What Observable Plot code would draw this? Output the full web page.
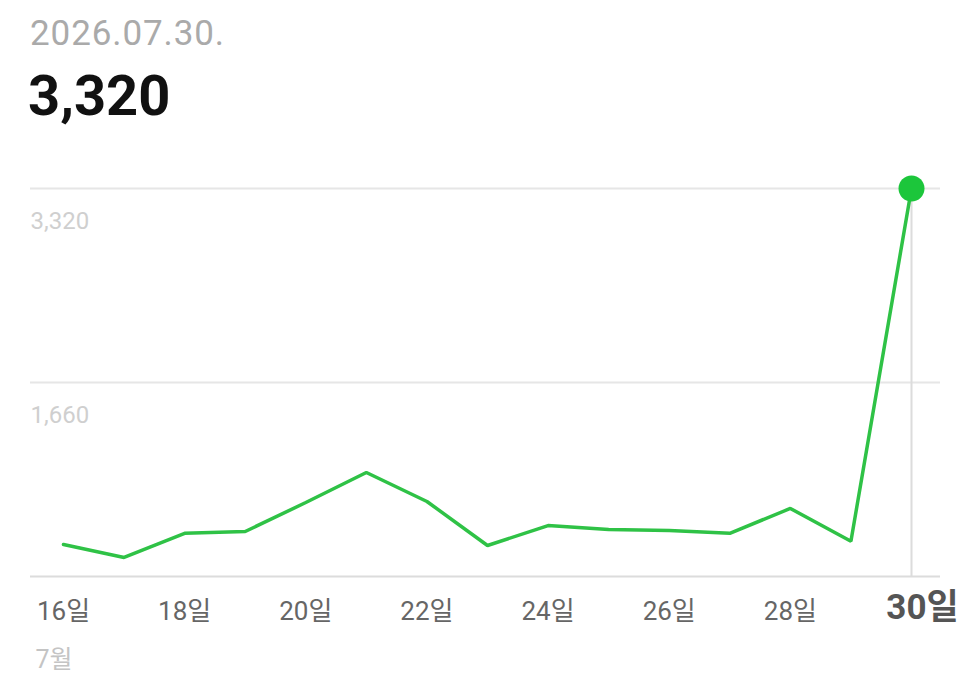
<!DOCTYPE html>
<html>
<head>
<meta charset="utf-8">
<script src="https://cdn.jsdelivr.net/npm/d3@7"></script>
<script src="https://cdn.jsdelivr.net/npm/@observablehq/plot@0.6"></script>
<style>
  html, body { margin: 0; padding: 0; background: #fff; }
  body { width: 975px; height: 682px; overflow: hidden; font-family: Roboto, "Noto Sans CJK KR", sans-serif; }
  #head { padding-left: 30px; height: 150px; box-sizing: border-box; position: relative; }
  #date { position: absolute; left: 30px; top: 12px; color: #aaaaaa; font-size: 35px; line-height: 44px; letter-spacing: 0.9px; white-space: nowrap; }
  #value { position: absolute; left: 28px; top: 64px; color: #111; font-size: 56px; font-weight: 700; line-height: 64px; white-space: nowrap; }
</style>
</head>
<body>
<div id="head">
  <div id="date">2026.07.30.</div>
  <div id="value">3,320</div>
</div>
<div id="chart"></div>
<script>
const days = [16, 17, 18, 19, 20, 21, 22, 23, 24, 25, 26, 27, 28, 29, 30];
const counts = [274, 163, 370, 385, 633, 890, 642, 265, 436, 402, 394, 370, 582, 302, 3320];
const gridValues = [1660, 3320];
const gridLabels = ["1,660", "3,320"];
const tickDays = [16, 18, 20, 22, 24, 26, 28, 30];
const tickLabels = ["16일", "18일", "20일", "22일", "24일", "26일", "28일", "30일"];
const monthLabel = "7월";
const selectedDay = 30;

const data = days.map((d, i) => ({day: d, count: counts[i]}));
const sel = data.find(d => d.day === selectedDay);
const ticks = tickDays.map((d, i) => ({day: d, label: tickLabels[i], selected: d === selectedDay}));
const grid = gridValues.map((v, i) => ({v, label: gridLabels[i]}));

const chart = Plot.plot({
  width: 975,
  height: 532,
  marginTop: 38,
  marginBottom: 106,
  marginLeft: 63,
  marginRight: 64,
  x: {domain: [16, 30], axis: null},
  y: {domain: [0, 3320], axis: null},
  style: {fontFamily: 'Roboto, "Noto Sans CJK KR", sans-serif', background: "#fff"},
  marks: [
    Plot.ruleY(grid, {y: "v", stroke: "#e6e6e6", strokeWidth: 2, insetLeft: -33, insetRight: -29}),
    Plot.ruleY([0], {stroke: "#dcdcdc", strokeWidth: 2, insetLeft: -33, insetRight: -29}),
    Plot.text(grid, {y: "v", text: "label", frameAnchor: "left", textAnchor: "start", dx: -33, dy: 33, fill: "#cfcfcf", fontSize: 24}),
    Plot.ruleX([sel], {x: "day", y1: 0, y2: "count", stroke: "#dcdcdc", strokeWidth: 2}),
    Plot.line(data, {x: "day", y: "count", stroke: "#2fc246", strokeWidth: 3.5, strokeLinejoin: "miter"}),
    Plot.dot([sel], {x: "day", y: "count", r: 13, fill: "#1cc63b"}),
    Plot.text(ticks.filter(t => !t.selected), {x: "day", text: "label", frameAnchor: "bottom", dy: 43, fill: "#666", fontSize: 26}),
    Plot.text(ticks.filter(t => t.selected), {x: "day", text: "label", frameAnchor: "bottom", dy: 42, dx: 11, fill: "#555", fontSize: 35, fontWeight: "bold"}),
    Plot.text([monthLabel], {frameAnchor: "bottom-left", textAnchor: "start", dx: -28, dy: 91, fill: "#c4c4c4", fontSize: 25})
  ]
});
document.getElementById("chart").append(chart);
</script>
</body>
</html>
